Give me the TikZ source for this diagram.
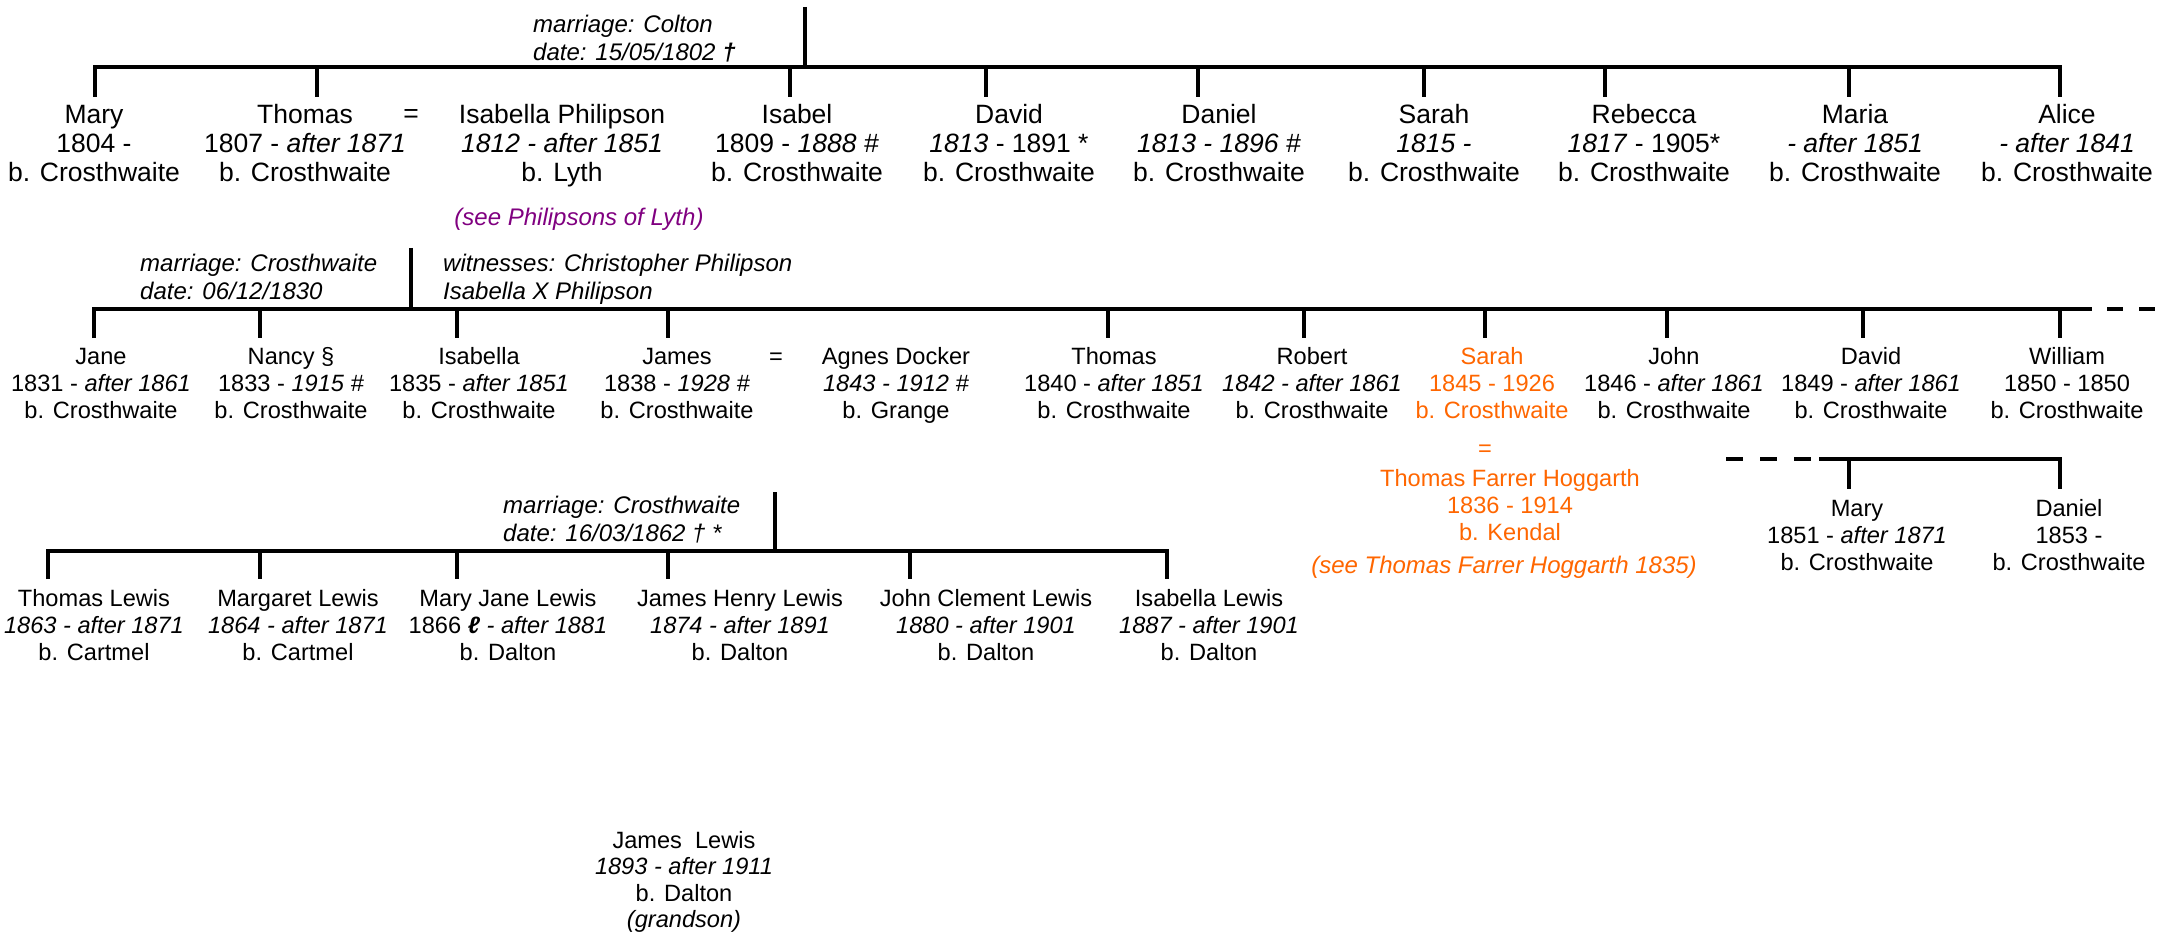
\documentclass[tikz,border=0pt]{standalone}
\usepackage{fontspec}
\setmainfont{Liberation Sans}
\definecolor{orng}{RGB}{255,102,0}
\definecolor{purp}{RGB}{128,0,128}
\begin{document}
\begin{tikzpicture}[x=1pt,y=-1pt,
  ln/.style={line width=4pt},
  pa/.style={align=center,inner sep=0pt,anchor=north,font=\fontsize{26.5}{29}\selectfont},
  pb/.style={align=center,inner sep=0pt,anchor=north,font=\fontsize{23.6}{27}\selectfont},
  eqa/.style={inner sep=0pt,anchor=base,font=\fontsize{26.5}{29}\selectfont},
  eqb/.style={inner sep=0pt,anchor=base,font=\fontsize{23.6}{27}\selectfont},
  lab/.style={align=left,inner sep=0pt,anchor=north west,font=\fontsize{24}{28}\selectfont\itshape},
  note/.style={inner sep=0pt,anchor=base,font=\fontsize{24}{28}\selectfont\itshape}]
\useasboundingbox (0,0) rectangle (2165,933);

% ---------- generation 1 ----------
\coordinate (m1top) at (805,7);
\coordinate (m1bar) at (805,67);
\coordinate (b1L) at (95,97);
\coordinate (b1Lt) at (95,67);
\coordinate (b1R) at (2060,97);
\coordinate (b1Rt) at (2060,67);
\draw[ln] (m1top) -- (m1bar);
\draw[ln] (b1L) -- (b1Lt) -- (b1Rt) -- (b1R);
\foreach \n/\x in {thomas/317,isabel/790,david/986,daniel/1198,sarah/1424,rebecca/1605,maria/1849}{
  \coordinate (g1\n t) at (\x,67);
  \coordinate (g1\n b) at (\x,97);
  \draw[ln] (g1\n t) -- (g1\n b);
}
\node[lab] (lab1) at (533,12.4) {\strut marriage: Colton\\date: 15/05/1802 \textbf{†}};

\node[pa] (mary1) at (94,102.7) {\strut Mary\\1804 -\\b. Crosthwaite};
\node[pa] (thomas1) at (305,102.7) {\strut Thomas\\1807 - \textit{after 1871}\\b. Crosthwaite};
\node[eqa] (eq1) at (411,123) {=};
\node[pa] (isabellaP) at (562,102.7) {\strut Isabella Philipson\\\textit{1812 - after 1851}\\b. Lyth};
\node[note,text=purp] (seeP) at (579,225.5) {(see Philipsons of Lyth)};
\node[pa] (isabel1) at (797,102.7) {\strut Isabel\\1809 - \textit{1888 \#}\\b. Crosthwaite};
\node[pa] (david1) at (1009,102.7) {\strut David\\\textit{1813} - 1891 *\\b. Crosthwaite};
\node[pa] (daniel1) at (1219,102.7) {\strut Daniel\\\textit{1813 - 1896 \#}\\b. Crosthwaite};
\node[pa] (sarah1) at (1434,102.7) {\strut Sarah\\\textit{1815 -}\\b. Crosthwaite};
\node[pa] (rebecca1) at (1644,102.7) {\strut Rebecca\\\textit{1817} - 1905*\\b. Crosthwaite};
\node[pa] (maria1) at (1855,102.7) {\strut Maria\\\textit{- after 1851}\\b. Crosthwaite};
\node[pa] (alice1) at (2067,102.7) {\strut Alice\\\textit{- after 1841}\\b. Crosthwaite};

% ---------- generation 2 ----------
\coordinate (m2top) at (411,248);
\coordinate (m2bar) at (411,309);
\coordinate (b2L) at (94,338);
\coordinate (b2Lt) at (94,309);
\coordinate (b2R) at (2060,338);
\coordinate (b2Rt) at (2060,309);
\coordinate (b2end) at (2156,309);
\draw[ln] (m2top) -- (m2bar);
\draw[ln] (b2L) -- (b2Lt) -- (b2Rt) -- (b2R);
\draw[ln,dash pattern=on 32pt off 15pt on 16pt off 16pt on 16pt] (b2Rt) -- (b2end);
\foreach \n/\x in {nancy/260,isabella/457,james/668,thomas/1108,robert/1304,sarah/1485,john/1667,david/1863}{
  \coordinate (g2\n t) at (\x,309);
  \coordinate (g2\n b) at (\x,338);
  \draw[ln] (g2\n t) -- (g2\n b);
}
\node[lab] (lab2) at (140,251.4) {\strut marriage: Crosthwaite\\date: 06/12/1830};
\node[lab] (wit2) at (443,251.4) {\strut witnesses: Christopher Philipson\\Isabella X Philipson};

\node[pb] (jane2) at (101,345.1) {\strut Jane\\1831 - \textit{after 1861}\\b. Crosthwaite};
\node[pb] (nancy2) at (291,345.1) {\strut Nancy §\\1833 - \textit{1915 \#}\\b. Crosthwaite};
\node[pb] (isabella2) at (479,345.1) {\strut Isabella\\1835 - \textit{after 1851}\\b. Crosthwaite};
\node[pb] (james2) at (677,345.1) {\strut James\\1838 - \textit{1928 \#}\\b. Crosthwaite};
\node[eqb] (eq2) at (776,364) {=};
\node[pb] (agnes2) at (896,345.1) {\strut Agnes Docker\\\textit{1843 - 1912 \#}\\b. Grange};
\node[pb] (thomas2) at (1114,345.1) {\strut Thomas\\1840 - \textit{after 1851}\\b. Crosthwaite};
\node[pb] (robert2) at (1312,345.1) {\strut Robert\\\textit{1842 - after 1861}\\b. Crosthwaite};
\node[pb,text=orng] (sarah2) at (1492,345.1) {\strut Sarah\\1845 - 1926\\b. Crosthwaite};
\node[pb] (john2) at (1674,345.1) {\strut John\\1846 - \textit{after 1861}\\b. Crosthwaite};
\node[pb] (david2) at (1871,345.1) {\strut David\\1849 - \textit{after 1861}\\b. Crosthwaite};
\node[pb] (william2) at (2067,345.1) {\strut William\\1850 - 1850\\b. Crosthwaite};

\node[eqb,text=orng] (eq3) at (1485,456) {=};
\node[pb,text=orng] (hoggarth) at (1510,467.1) {\strut Thomas Farrer Hoggarth\\1836 - 1914\\b. Kendal};
\node[note,text=orng] (seeH) at (1504,573) {(see Thomas Farrer Hoggarth 1835)};

% right-hand continuation
\coordinate (s2a) at (1726,459);
\coordinate (s2b) at (1819,459);
\coordinate (s2Rt) at (2060,459);
\coordinate (s2R) at (2060,489);
\coordinate (s2mt) at (1849,459);
\coordinate (s2mb) at (1849,489);
\draw[ln,dash pattern=on 17pt off 17pt] (s2a) -- (s2b);
\draw[ln] (s2b) -- (s2Rt) -- (s2R);
\draw[ln] (s2mt) -- (s2mb);
\node[pb] (mary2) at (1857,497.6) {\strut Mary\\1851 - \textit{after 1871}\\b. Crosthwaite};
\node[pb] (daniel2) at (2069,497.6) {\strut Daniel\\1853 -\\b. Crosthwaite};

% ---------- generation 3 ----------
\coordinate (m3top) at (775,492);
\coordinate (m3bar) at (775,551);
\coordinate (b3L) at (48,579);
\coordinate (b3Lt) at (48,551);
\coordinate (b3R) at (1167,579);
\coordinate (b3Rt) at (1167,551);
\draw[ln] (m3top) -- (m3bar);
\draw[ln] (b3L) -- (b3Lt) -- (b3Rt) -- (b3R);
\foreach \n/\x in {margaret/260,maryjane/457,jameshenry/668,johnclement/910}{
  \coordinate (g3\n t) at (\x,551);
  \coordinate (g3\n b) at (\x,579);
  \draw[ln] (g3\n t) -- (g3\n b);
}
\node[lab] (lab3) at (503,493.9) {\strut marriage: Crosthwaite\\date: 16/03/1862 † *};

\node[pb] (thomasL) at (94,587.6) {\strut Thomas Lewis\\\textit{1863 - after 1871}\\b. Cartmel};
\node[pb] (margaretL) at (298,587.6) {\strut Margaret Lewis\\\textit{1864 - after 1871}\\b. Cartmel};
\node[pb] (maryjaneL) at (508,587.6) {\strut Mary Jane Lewis\\1866 \textbf{\textit{ℓ}} \textit{- after 1881}\\b. Dalton};
\node[pb] (jameshenryL) at (740,587.6) {\strut James Henry Lewis\\\textit{1874 - after 1891}\\b. Dalton};
\node[pb] (johnclementL) at (986,587.6) {\strut John Clement Lewis\\\textit{1880 - after 1901}\\b. Dalton};
\node[pb] (isabellaL) at (1209,587.6) {\strut Isabella Lewis\\\textit{1887 - after 1901}\\b. Dalton};

\node[align=center,inner sep=0pt,anchor=north,font=\fontsize{23.6}{26.5}\selectfont] (jamesL) at (684,829.5)
  {\strut James\ \ Lewis\\\textit{1893 - after 1911}\\b. Dalton\\\textit{(grandson)}};
\end{tikzpicture}
\end{document}
